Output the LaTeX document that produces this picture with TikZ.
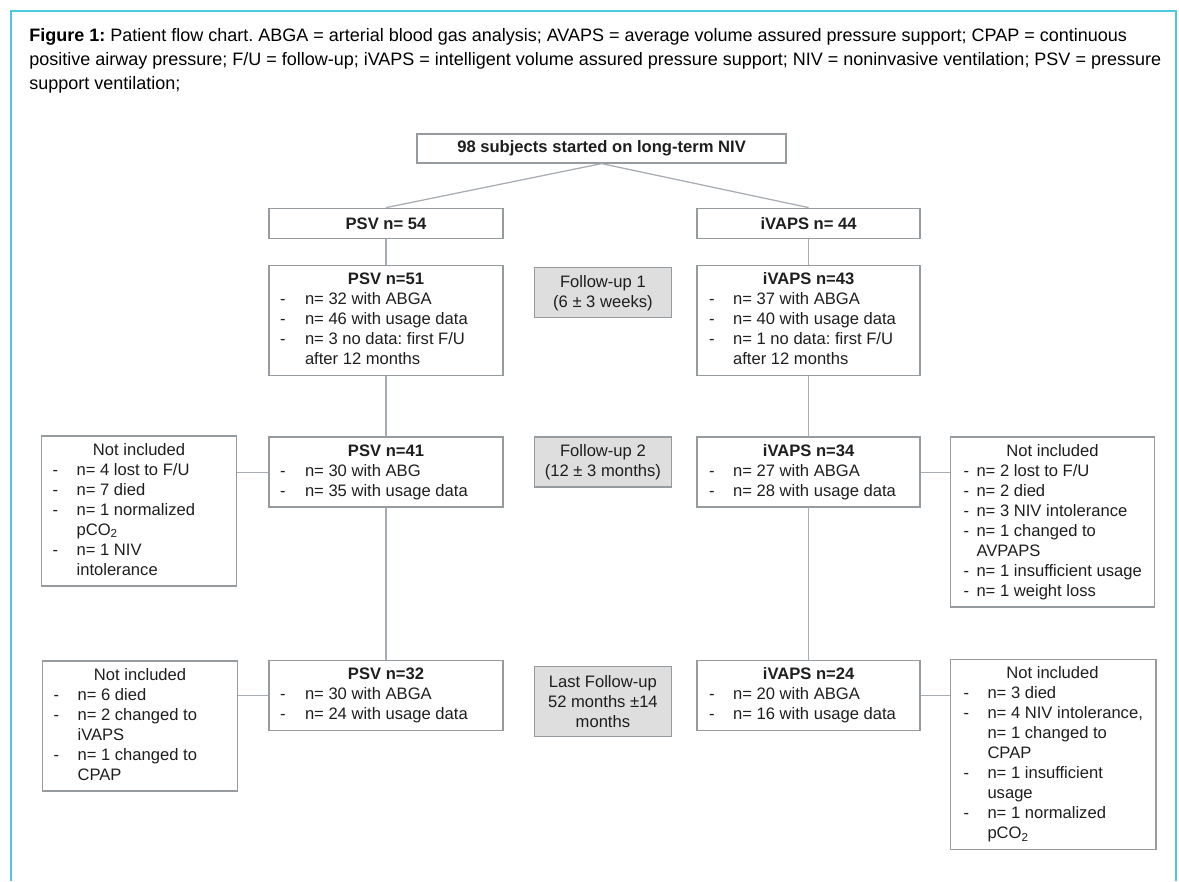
\documentclass[tikz,border=0pt]{standalone}
\usepackage{fontspec}
\setmainfont{Liberation Sans}
\usepackage{tikz}
\usetikzlibrary{positioning}

\definecolor{frameCyan}{RGB}{77,201,222}
\definecolor{boxGray}{RGB}{150,155,160}
\definecolor{linkGray}{RGB}{168,173,179}
\definecolor{stageFill}{RGB}{222,222,222}
\definecolor{textDark}{RGB}{30,30,30}

\newcommand{\flowfont}{\fontsize{11.8}{14.23}\selectfont}
\newcommand{\boxtitle}[2]{\multicolumn{2}{@{}l@{}}{\makebox[#1]{#2}}}
\frenchspacing

\begin{document}
\begin{tikzpicture}[node distance = 1cm]
            \useasboundingbox (0,0) rectangle (29.475,-22.025);
            % Set primary nodes
            \tikzset{
                captionNode/.style={
                        anchor=north west,
                        inner sep=0pt,
                        align=left,
                        font=\fontsize{12.8}{17.07}\selectfont
                    }
            }
            \tikzset{
                totalNode/.style={
                        draw=boxGray,
                        line width=1pt,
                        rectangle,
                        text=textDark,
                        minimum height=0.725cm,
                        minimum width=9.225cm,
                        font=\flowfont\bfseries
                    }
            }
            \tikzset{
                armNode/.style={
                        draw=boxGray,
                        line width=1pt,
                        rectangle,
                        text=textDark,
                        minimum height=0.75cm,
                        font=\flowfont\bfseries
                    }
            }
            \tikzset{
                groupNode/.style={
                        draw=boxGray,
                        line width=1pt,
                        rectangle,
                        text=textDark,
                        inner ysep=0.125cm,
                        font=\flowfont
                    }
            }
            \tikzset{
                stageNode/.style={
                        draw=boxGray,
                        line width=1pt,
                        fill=stageFill,
                        rectangle,
                        align=center,
                        text=textDark,
                        minimum width=3.425cm,
                        font=\flowfont
                    }
            }
            % Configure connectors
            \tikzstyle{link} = [draw=linkGray, line width=0.9pt]
            % Frame and caption
            \draw[frameCyan, line width=1.4pt] (0.275,-22.025) -- (0.275,-0.275) -- (29.4,-0.275) -- (29.4,-22.025);
            \node[captionNode] (caption) at (0.725,-0.7) {\textbf{Figure 1:} Patient flow chart. ABGA = arterial blood gas analysis; AVAPS = average volume assured pressure support; CPAP = continuous\\
                positive airway pressure; F/U = follow-up; iVAPS = intelligent volume assured pressure support; NIV = noninvasive ventilation; PSV = pressure\\
                support ventilation;};
            % Placing nodes
            \node[totalNode] (total) at (15.04,-3.71) {98 subjects started on long-term NIV};
            \node[armNode, minimum width=5.85cm, below = 1.1cm of total, xshift = -5.39cm] (psvArm) {PSV n= 54};
            \node[armNode, minimum width=5.575cm, below = 1.1cm of total, xshift = 5.175cm] (ivapsArm) {iVAPS n= 44};
            \node[groupNode, inner xsep=0.275cm, minimum width=5.85cm, below = 0.65cm of psvArm] (psv1) {\begin{tabular}{@{}p{0.625cm}@{}l@{}}
                    \boxtitle{5.3cm}{\textbf{PSV n=51}}\\
                    - & n= 32 with ABGA\\
                    - & n= 46 with usage data\\
                    - & n= 3 no data: first F/U\\
                      & after 12 months
                \end{tabular}};
            \node[groupNode, inner xsep=0.3cm, minimum width=5.575cm, below = 0.65cm of ivapsArm] (ivaps1) {\begin{tabular}{@{}p{0.6cm}@{}l@{}}
                    \boxtitle{4.975cm}{\textbf{iVAPS n=43}}\\
                    - & n= 37 with ABGA\\
                    - & n= 40 with usage data\\
                    - & n= 1 no data: first F/U\\
                      & after 12 months
                \end{tabular}};
            \node[stageNode, minimum height=1.25cm, right = 0.75cm of psv1, yshift = 0.7cm] (followUp1) {Follow-up 1\\(6 ± 3 weeks)};
            \node[groupNode, inner xsep=0.275cm, minimum width=5.85cm, below = 1.5cm of psv1] (psv2) {\begin{tabular}{@{}p{0.625cm}@{}l@{}}
                    \boxtitle{5.3cm}{\textbf{PSV n=41}}\\
                    - & n= 30 with ABG\\
                    - & n= 35 with usage data
                \end{tabular}};
            \node[groupNode, inner xsep=0.3cm, minimum width=5.575cm, below = 1.5cm of ivaps1] (ivaps2) {\begin{tabular}{@{}p{0.6cm}@{}l@{}}
                    \boxtitle{4.975cm}{\textbf{iVAPS n=34}}\\
                    - & n= 27 with ABGA\\
                    - & n= 28 with usage data
                \end{tabular}};
            \node[stageNode, minimum height=1.25cm, below = 2.95cm of followUp1] (followUp2) {Follow-up 2\\(12 ± 3 months)};
            \node[groupNode, inner xsep=0.275cm, minimum width=5.85cm, below = 3.8cm of psv2] (psv3) {\begin{tabular}{@{}p{0.625cm}@{}l@{}}
                    \boxtitle{5.3cm}{\textbf{PSV n=32}}\\
                    - & n= 30 with ABGA\\
                    - & n= 24 with usage data
                \end{tabular}};
            \node[groupNode, inner xsep=0.3cm, minimum width=5.575cm, below = 3.8cm of ivaps2] (ivaps3) {\begin{tabular}{@{}p{0.6cm}@{}l@{}}
                    \boxtitle{4.975cm}{\textbf{iVAPS n=24}}\\
                    - & n= 20 with ABGA\\
                    - & n= 16 with usage data
                \end{tabular}};
            \node[stageNode, minimum height=1.75cm, below = 4.45cm of followUp2] (followUp3) {Last Follow-up\\52 months ±14\\months};
            \node[groupNode, inner xsep=0.275cm, minimum width=4.875cm, left = 0.775cm of psv2, yshift = -0.975cm] (excludedPsv2) {\begin{tabular}{@{}p{0.6cm}@{}l@{}}
                    \boxtitle{4.325cm}{Not included}\\
                    - & n= 4 lost to F/U\\
                    - & n= 7 died\\
                    - & n= 1 normalized\\
                      & pCO\textsubscript{2}\\
                    - & n= 1 NIV\\
                      & intolerance
                \end{tabular}};
            \node[groupNode, inner xsep=0.275cm, minimum width=4.875cm, left = 0.75cm of psv3, yshift = -0.7625cm] (excludedPsv3) {\begin{tabular}{@{}p{0.6cm}@{}l@{}}
                    \boxtitle{4.325cm}{Not included}\\
                    - & n= 6 died\\
                    - & n= 2 changed to\\
                      & iVAPS\\
                    - & n= 1 changed to\\
                      & CPAP
                \end{tabular}};
            \node[groupNode, inner xsep=0.325cm, minimum width=5.1cm, right = 0.725cm of ivaps2, yshift = -1.25cm] (excludedIvaps2) {\begin{tabular}{@{}p{0.325cm}@{}l@{}}
                    \boxtitle{4.45cm}{Not included}\\
                    - & n= 2 lost to F/U\\
                    - & n= 2 died\\
                    - & n= 3 NIV intolerance\\
                    - & n= 1 changed to\\
                      & AVPAPS\\
                    - & n= 1 insufficient usage\\
                    - & n= 1 weight loss
                \end{tabular}};
            \node[groupNode, inner xsep=0.325cm, minimum width=5.1cm, right = 0.725cm of ivaps3, yshift = -1.475cm] (excludedIvaps3) {\begin{tabular}{@{}p{0.6cm}@{}l@{}}
                    \boxtitle{4.45cm}{Not included}\\
                    - & n= 3 died\\
                    - & n= 4 NIV intolerance,\\
                      & n= 1 changed to\\
                      & CPAP\\
                    - & n= 1 insufficient\\
                      & usage\\
                    - & n= 1 normalized\\
                      & pCO\textsubscript{2}
                \end{tabular}};
            % Draw connectors
            \draw[link] (total.south) -- (psvArm.north);
            \draw[link] (total.south) -- (ivapsArm.north);
            \draw[link] (psvArm) -- (psv1);
            \draw[link] (psv1) -- (psv2);
            \draw[link] (psv2) -- (psv3);
            \draw[link] (ivapsArm) -- (ivaps1);
            \draw[link] (ivaps1) -- (ivaps2);
            \draw[link] (ivaps2) -- (ivaps3);
            \draw[link] (psv2.west) -- (psv2.west -| excludedPsv2.east);
            \draw[link] (psv3.west) -- (psv3.west -| excludedPsv3.east);
            \draw[link] (ivaps2.east) -- (ivaps2.east -| excludedIvaps2.west);
            \draw[link] (ivaps3.east) -- (ivaps3.east -| excludedIvaps3.west);
        \end{tikzpicture}
\end{document}
